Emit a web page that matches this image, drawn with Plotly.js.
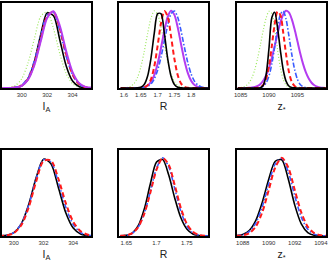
<!DOCTYPE html>
<html><head><meta charset="utf-8">
<script src="https://cdn.plot.ly/plotly-3.0.1.min.js"></script>
<style>html,body{margin:0;padding:0;background:#fff;}#chart{width:330px;height:263px;}</style>
</head><body><div id="chart"></div>
<script>
// ---------- top row: I_A ----------
const xIA1 = [298.5,299,299.5,300,300.5,301,301.5,302,302.5,303,303.5,304,304.5,305,305.5];
const IA1_green   = [0.001,0.0066,0.033,0.12,0.325,0.64,0.927,0.986,0.77,0.442,0.186,0.057,0.013,0.002,0];
const IA1_black   = [0,0.0005,0.0044,0.027,0.117,0.344,0.694,0.971,0.935,0.621,0.285,0.09,0.02,0.003,0];
const IA1_red     = [0,0.0009,0.006,0.031,0.115,0.316,0.634,0.926,0.986,0.766,0.435,0.179,0.054,0.012,0.002];
const IA1_blue    = [0,0.0012,0.0079,0.038,0.135,0.352,0.674,0.946,0.976,0.739,0.411,0.168,0.05,0.011,0.0018];
const IA1_magenta = [0,0.0008,0.0056,0.029,0.108,0.298,0.607,0.906,0.994,0.801,0.474,0.206,0.066,0.015,0.0025];
// ---------- top row: R ----------
const xR1 = [1.59,1.60,1.61,1.62,1.63,1.64,1.65,1.66,1.67,1.68,1.69,1.70,1.71,1.72,1.73,1.74,1.75,1.76,1.77,1.78,1.79,1.80,1.81,1.82,1.83,1.84,1.85];
const R1_green   = [0.0005,0.0019,0.007,0.022,0.059,0.135,0.272,0.469,0.699,0.899,0.997,0.953,0.788,0.56,0.344,0.182,0.083,0.033,0.011,0.0033,0.0008,0,0,0,0,0,0];
const R1_black   = [0,0,0,0,0.0002,0.0015,0.0093,0.044,0.151,0.381,0.707,0.962,0.962,0.707,0.381,0.151,0.044,0.0093,0.0015,0.0002,0,0,0,0,0,0,0];
const R1_red     = [0,0,0,0,0,0.0002,0.0015,0.0082,0.034,0.11,0.278,0.546,0.835,0.995,0.923,0.667,0.375,0.164,0.056,0.015,0.003,0.0005,0,0,0,0,0];
const R1_blue    = [0,0,0,0,0.0001,0.0006,0.0022,0.0072,0.021,0.052,0.117,0.231,0.398,0.607,0.813,0.96,0.997,0.912,0.734,0.521,0.325,0.178,0.086,0.037,0.014,0.0045,0.0013];
const R1_magenta = [0,0,0,0,0.0002,0.0009,0.0034,0.011,0.032,0.078,0.168,0.315,0.517,0.739,0.921,1.0,0.946,0.781,0.562,0.353,0.193,0.092,0.038,0.014,0.0043,0.0012,0.0003];
// ---------- top row: z* ----------
const xZ1 = [1084.5,1085,1085.5,1086,1086.5,1087,1087.5,1088,1088.5,1089,1089.5,1090,1090.5,1091,1091.5,1092,1092.5,1093,1093.5,1094,1094.5,1095,1095.5,1096,1096.5,1097,1097.5,1098,1098.5,1099,1099.5,1100];
const Z1_green   = [0.0018,0.005,0.013,0.032,0.069,0.135,0.24,0.389,0.569,0.755,0.909,0.992,0.963,0.768,0.498,0.262,0.112,0.039,0.011,0.0026,0.0005,0,0,0,0,0,0,0,0,0,0,0];
const Z1_black   = [0,0,0,0,0,0,0,0.0003,0.0045,0.037,0.178,0.521,0.912,0.98,0.783,0.487,0.236,0.089,0.026,0.006,0.001,0,0,0,0,0,0,0,0,0,0,0];
const Z1_red     = [0,0,0,0,0,0,0.0004,0.0024,0.011,0.042,0.122,0.291,0.549,0.826,0.99,0.946,0.72,0.438,0.212,0.082,0.025,0.006,0.0012,0.0002,0,0,0,0,0,0,0,0];
const Z1_blue    = [0,0,0,0,0,0,0.0005,0.002,0.0077,0.025,0.068,0.158,0.315,0.534,0.772,0.95,0.997,0.891,0.679,0.441,0.244,0.115,0.046,0.016,0.0046,0.0011,0.0002,0,0,0,0,0];
const Z1_magenta = [0,0.0001,0.0003,0.0009,0.0024,0.0058,0.013,0.027,0.053,0.097,0.166,0.264,0.392,0.543,0.701,0.846,0.951,0.999,0.978,0.894,0.762,0.607,0.45,0.312,0.201,0.122,0.068,0.036,0.018,0.008,0.0034,0.0013];
// ---------- bottom row: I_A ----------
const xIA2 = [299,299.5,300,300.5,301,301.5,302,302.5,303,303.5,304,304.5,305,305.5];
const IA2_black = [0.0012,0.0084,0.043,0.155,0.402,0.745,0.983,0.925,0.621,0.297,0.101,0.025,0.0043,0.0005];
const IA2_blue  = [0.0013,0.009,0.044,0.155,0.395,0.729,0.975,0.948,0.685,0.368,0.147,0.044,0.0099,0.0016];
const IA2_red   = [0.0011,0.0076,0.038,0.138,0.365,0.696,0.96,0.966,0.732,0.421,0.183,0.061,0.015,0.003];
// ---------- bottom row: R ----------
const xR2 = [1.64,1.65,1.66,1.67,1.68,1.69,1.70,1.71,1.72,1.73,1.74,1.75,1.76,1.77,1.78,1.79];
const R2_black = [0.0012,0.0079,0.038,0.135,0.352,0.674,0.946,0.98,0.783,0.487,0.236,0.089,0.026,0.006,0.001,0.0001];
const R2_blue  = [0.0015,0.0082,0.035,0.116,0.294,0.575,0.865,1.0,0.888,0.607,0.318,0.128,0.04,0.0095,0.0018,0.0003];
const R2_red   = [0.0017,0.0089,0.036,0.116,0.289,0.561,0.848,0.997,0.914,0.652,0.362,0.157,0.053,0.014,0.0028,0.0004];
// ---------- bottom row: z* ----------
const xZ2 = [1087.5,1088,1088.5,1089,1089.5,1090,1090.5,1091,1091.5,1092,1092.5,1093,1093.5,1094,1094.5];
const Z2_black = [0.0043,0.0198,0.071,0.198,0.43,0.726,0.956,0.975,0.729,0.395,0.155,0.044,0.009,0.0013,0.0001];
const Z2_blue  = [0.0031,0.015,0.056,0.164,0.375,0.667,0.923,0.994,0.82,0.512,0.242,0.087,0.024,0.0049,0.0008];
const Z2_red   = [0.0015,0.0084,0.036,0.119,0.302,0.588,0.876,1.0,0.876,0.588,0.302,0.119,0.036,0.0084,0.0015];
// ---------- ticks ----------
const ticksIA1 = [300,302,304];
const ticksR1 = [1.6,1.65,1.7,1.75,1.8];
const ticksR1Text = ['1.6','1.65','1.7','1.75','1.8'];
const ticksZ1 = [1085,1090,1095];
const ticksIA2 = [300,302,304];
const ticksR2 = [1.65,1.7,1.75];
const ticksR2Text = ['1.65','1.7','1.75'];
const ticksZ2 = [1088,1090,1092,1094];
const titles = ['I<sub>A</sub>','R','z<sub>*</sub>'];

const GREEN='#9be85c', BLACK='#000000', RED='#ff1a1a', BLUE='#3a5cff', MAG='#b43cf0';
const st = {
  green:{color:GREEN,width:1.2,dash:'1px,2px'},
  black:{color:BLACK,width:1.6},
  red:{color:RED,width:2,dash:'5px,3px'},
  blue:{color:BLUE,width:1.6,dash:'5px,2px,1.5px,2px'},
  mag:{color:MAG,width:2}
};
function tr(x,y,s,n){return {x:x,y:y,type:'scatter',mode:'lines',line:Object.assign({shape:'spline',smoothing:0.8},s),xaxis:'x'+(n===1?'':n),yaxis:'y'+(n===1?'':n),hoverinfo:'skip'};}
const data = [
  tr(xIA1,IA1_green,st.green,1),tr(xIA1,IA1_black,st.black,1),tr(xIA1,IA1_blue,st.blue,1),tr(xIA1,IA1_red,st.red,1),tr(xIA1,IA1_magenta,st.mag,1),
  tr(xR1,R1_green,st.green,2),tr(xR1,R1_magenta,st.mag,2),tr(xR1,R1_blue,st.blue,2),tr(xR1,R1_red,st.red,2),tr(xR1,R1_black,st.black,2),
  tr(xZ1,Z1_green,st.green,3),tr(xZ1,Z1_magenta,st.mag,3),tr(xZ1,Z1_blue,st.blue,3),tr(xZ1,Z1_red,st.red,3),tr(xZ1,Z1_black,st.black,3),
  tr(xIA2,IA2_black,st.black,4),tr(xIA2,IA2_blue,st.blue,4),tr(xIA2,IA2_red,st.red,4),
  tr(xR2,R2_black,st.black,5),tr(xR2,R2_blue,st.blue,5),tr(xR2,R2_red,st.red,5),
  tr(xZ2,Z2_black,st.black,6),tr(xZ2,Z2_blue,st.blue,6),tr(xZ2,Z2_red,st.red,6)
];
const W=330,H=263;
const colX=[[2,91],[119,208],[237,326]];
const rowY=[[3,88],[150,236]];
const ranges=[[298.45,305.45],[1.585,1.85],[1084.35,1100.05],[299.2,305.2],[1.638,1.785],[1087.56,1094.4]];
const tv=[ticksIA1,ticksR1,ticksZ1,ticksIA2,ticksR2,ticksZ2];
const tt=[ticksIA1.map(String),ticksR1Text,ticksZ1.map(String),ticksIA2.map(String),ticksR2Text,ticksZ2.map(String)];
const layout={width:W,height:H,margin:{l:0,r:0,t:0,b:0},showlegend:false,paper_bgcolor:'#fff',plot_bgcolor:'#fff',
  font:{family:'Liberation Sans, Arial, sans-serif',color:'#222'}};
for(let i=0;i<6;i++){
  const c=i%3,r=Math.floor(i/3),n=i+1,sfx=(n===1?'':n);
  layout['xaxis'+sfx]={domain:[colX[c][0]/W,colX[c][1]/W],range:ranges[i],anchor:'y'+sfx,showgrid:false,zeroline:false,
    showline:true,mirror:true,linecolor:'#000',linewidth:2,ticks:'',tickvals:tv[i],ticktext:tt[i],tickfont:{size:6,color:'#333'},
    title:{text:titles[c],font:{size:10.5,color:'#222'},standoff:5}};
  layout['yaxis'+sfx]={domain:[1-rowY[r][1]/H,1-rowY[r][0]/H],range:[0,1.1],anchor:'x'+sfx,showgrid:false,zeroline:false,
    showline:true,mirror:true,linecolor:'#000',linewidth:2,ticks:'',showticklabels:false};
}
Plotly.newPlot('chart',data,layout,{staticPlot:true,displayModeBar:false});
</script></body></html>
